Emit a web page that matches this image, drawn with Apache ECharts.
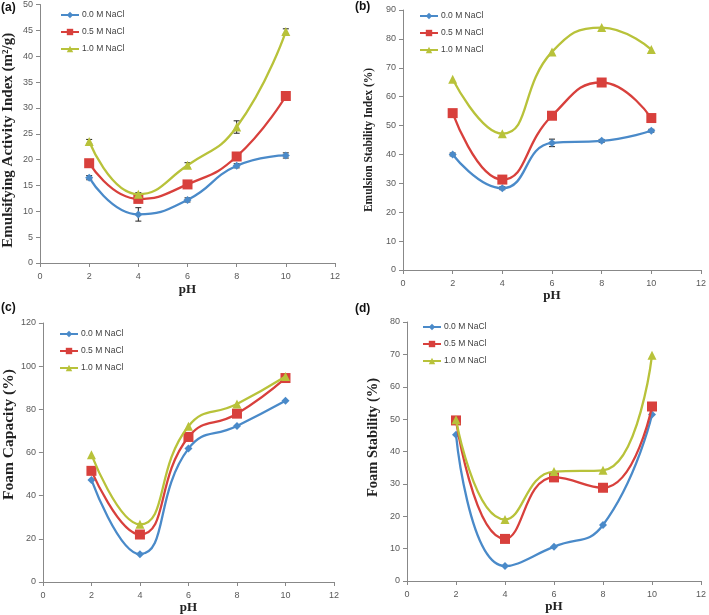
<!DOCTYPE html>
<html><head><meta charset="utf-8">
<script src="https://cdn.jsdelivr.net/npm/echarts@6/dist/echarts.min.js"></script>
<style>html,body{margin:0;padding:0;background:#fff}#c{width:709px;height:615px}</style>
</head><body><div id="c"></div>
<script>
const pH = [2, 4, 6, 8, 10];
const seriesNames = ['0.0 M NaCl', '0.5 M NaCl', '1.0 M NaCl'];

// (a) Emulsifying Activity Index
const eai00 = [16.5, 9.4, 12.2, 18.8, 20.8];
const eai05 = [19.3, 12.4, 15.2, 20.6, 32.3];
const eai10 = [23.5, 13.3, 18.9, 26.3, 44.8];
const eaiErr00 = [0.4, 1.3, 0.4, 0.4, 0.5];
const eaiErr05 = [0.3, 0.3, 0.3, 0.3, 0.3];
const eaiErr10 = [0.4, 0.3, 0.5, 1.2, 0.5];

// (b) Emulsion Stability Index
const esi00 = [40.0, 28.3, 44.0, 44.7, 48.2];
const esi05 = [54.3, 31.3, 53.4, 64.9, 52.6];
const esi10 = [66.0, 47.2, 75.5, 83.9, 76.3];
const esiErr00 = [0.5, 0.5, 1.3, 0.5, 0.5];

// (c) Foam Capacity
const fc00 = [47.3, 12.9, 61.8, 72.3, 84.0];
const fc05 = [51.5, 22.0, 67.2, 78.0, 94.5];
const fc10 = [59.0, 26.7, 72.2, 82.5, 95.2];

// (d) Foam Stability
const fs00 = [45.2, 4.6, 10.6, 17.3, 51.4];
const fs05 = [49.6, 13.0, 32.0, 28.8, 53.9];
const fs10 = [49.8, 19.0, 33.8, 34.2, 69.7];

const panels = [
  {label: '(a)', title: 'Emulsifying Activity Index (m²/g)', max: 50, interval: 5, data: [eai00, eai05, eai10], err: [eaiErr00, eaiErr05, eaiErr10],
   grid: {left: 39, top: 4, width: 296, height: 259}, legend: {left: 60, top: 10}, labelPos: [1, 2],
   titleSize: 15, nameGap: 24, xGap: 20, titlePad: [0, 13, 0, 0]},
  {label: '(b)', title: 'Emulsion Stability Index (%)', max: 90, interval: 10, data: [esi00, esi05, esi10], err: [esiErr00, null, null],
   grid: {left: 403, top: 10, width: 299, height: 260}, legend: {left: 419, top: 11}, labelPos: [355, 1],
   titleSize: 11.5, nameGap: 28, xGap: 19, titlePad: [0, 0, 0, 0]},
  {label: '(c)', title: 'Foam Capacity (%)', max: 120, interval: 20, data: [fc00, fc05, fc10], err: [null, null, null],
   grid: {left: 41, top: 323, width: 293, height: 259}, legend: {left: 59, top: 329}, labelPos: [1, 302],
   titleSize: 15.5, nameGap: 24, xGap: 15, titlePad: [0, 0, 0, 36]},
  {label: '(d)', title: 'Foam Stability (%)', max: 80, interval: 10, data: [fs00, fs05, fs10], err: [null, null, null],
   grid: {left: 407, top: 322, width: 297, height: 259}, legend: {left: 422, top: 322}, labelPos: [355, 303],
   titleSize: 14.5, nameGap: 26, xGap: 17, titlePad: [0, 0, 0, 28]}
];

const colors = ['#4A8AC9', '#D8403C', '#B8C23A'];
const symbols = ['diamond', 'rect', 'triangle'];
const symbolSizes = [8, 10, 9];
const axisColor = '#888888';
const tickFont = {color: '#595959', fontSize: 9, fontFamily: 'Liberation Sans'};

const grids = [], xAxes = [], yAxes = [], series = [], legends = [], graphics = [];
panels.forEach((p, i) => {
  grids.push(Object.assign({containLabel: false}, p.grid));
  xAxes.push({
    type: 'value', gridIndex: i, min: 0, max: 12, interval: 2,
    name: 'pH', nameLocation: 'middle', nameGap: p.xGap,
    nameTextStyle: {fontFamily: 'Liberation Serif', fontWeight: 'bold', fontSize: 13, color: '#222'},
    axisLine: {lineStyle: {color: axisColor}}, axisTick: {lineStyle: {color: axisColor}, length: 4},
    axisLabel: Object.assign({margin: 9}, tickFont), splitLine: {show: false}
  });
  yAxes.push({
    type: 'value', gridIndex: i, min: 0, max: p.max, interval: p.interval,
    name: p.title, nameLocation: 'middle', nameGap: p.nameGap, nameRotate: 90,
    nameTextStyle: {fontFamily: 'Liberation Serif', fontWeight: 'bold', fontSize: p.titleSize, color: '#222', padding: p.titlePad},
    axisLine: {show: true, lineStyle: {color: axisColor}}, axisTick: {show: true, lineStyle: {color: axisColor}, length: 4},
    axisLabel: Object.assign({margin: 7}, tickFont), splitLine: {show: false}
  });
  p.data.forEach((vals, k) => {
    series.push({
      name: seriesNames[k], type: 'line', xAxisIndex: i, yAxisIndex: i,
      data: pH.map((x, j) => [x, vals[j]]), smooth: 0.5,
      symbol: symbols[k], symbolSize: symbolSizes[k], z: 3 + k,
      lineStyle: {color: colors[k], width: 2.3}, itemStyle: {color: colors[k]}
    });
    const err = p.err[k];
    if (err) {
      series.push({
        type: 'custom', xAxisIndex: i, yAxisIndex: i, z: 2, silent: true,
        data: pH.map((x, j) => [x, vals[j], err[j]]),
        renderItem: function (params, api) {
          const x = api.value(0), y = api.value(1), e = api.value(2);
          const top = api.coord([x, y + e]), bot = api.coord([x, y - e]);
          const st = {stroke: '#222', lineWidth: 1};
          return {type: 'group', children: [
            {type: 'line', shape: {x1: top[0], y1: top[1], x2: bot[0], y2: bot[1]}, style: st},
            {type: 'line', shape: {x1: top[0] - 3, y1: top[1], x2: top[0] + 3, y2: top[1]}, style: st},
            {type: 'line', shape: {x1: bot[0] - 3, y1: bot[1], x2: bot[0] + 3, y2: bot[1]}, style: st}
          ]};
        }
      });
    }
  });
  legends.push({
    data: seriesNames, orient: 'vertical', left: p.legend.left, top: p.legend.top,
    itemWidth: 18, itemHeight: 8, itemGap: 7, padding: 0,
    textStyle: {fontSize: 8.5, lineHeight: 10, color: '#404040', fontFamily: 'Liberation Sans', padding: [0, 0, 0, -2]}
  });
  graphics.push({type: 'text', left: p.labelPos[0], top: p.labelPos[1],
    style: {text: p.label, fontFamily: 'Liberation Sans', fontWeight: 'bold', fontSize: 12, fill: '#111'}});
});

const chart = echarts.init(document.getElementById('c'), null, {renderer: 'canvas'});
chart.setOption({
  animation: false, backgroundColor: '#fff', color: colors,
  grid: grids, xAxis: xAxes, yAxis: yAxes, series: series, legend: legends, graphic: graphics
});
</script></body></html>
